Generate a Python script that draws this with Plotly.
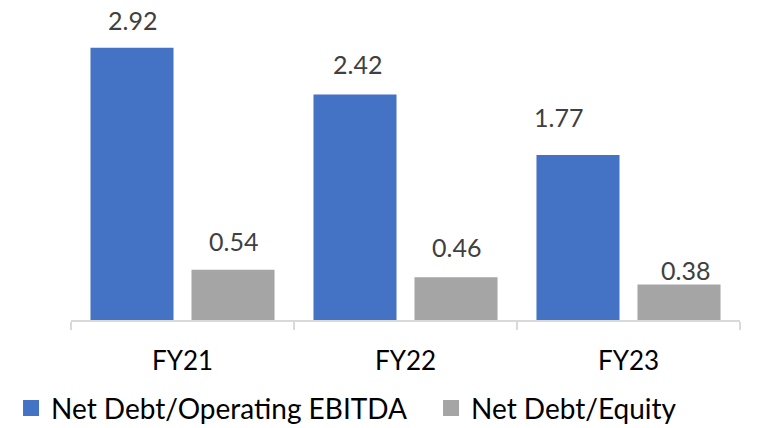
import plotly.graph_objects as go

categories = ["FY21", "FY22", "FY23"]
ebitda = [2.92, 2.42, 1.77]
equity = [0.54, 0.46, 0.38]
series_names = ["Net Debt/Operating EBITDA", "Net Debt/Equity"]
colors = ["#4472C4", "#A5A5A5"]
# pixel offsets of each data label from its bar top (as placed in the original)
ebitda_label_dy = [28, 30, 38]
ebitda_label_dx = [0, 2, -20]
equity_label_dy = [29, 30, 15]
equity_label_dx = [0, 0, 6]

FONT = "Lato"

fig = go.Figure()
legend_ids = ["legend", "legend2"]
for name, vals, col, lg in zip(series_names, [ebitda, equity], colors, legend_ids):
    fig.add_trace(go.Bar(x=categories, y=vals, name=name, marker_color=col,
                         marker_line_width=0, showlegend=False))
    # legend entry with a larger square swatch
    fig.add_trace(go.Scatter(x=[None], y=[None], mode="markers", name=name,
                             marker=dict(symbol="square", size=16, color=col),
                             legend=lg, showlegend=True))

slot_shift = 50.5
for vals, dys, dxs, sx in [(ebitda, ebitda_label_dy, ebitda_label_dx, -slot_shift),
                           (equity, equity_label_dy, equity_label_dx, slot_shift)]:
    for c, v, dy, dx in zip(categories, vals, dys, dxs):
        fig.add_annotation(x=c, y=v, xref="x", yref="y", text=f"{v:.2f}",
                           showarrow=False, xshift=sx + dx, yshift=dy,
                           font=dict(family=FONT, size=25, color="#404040"))

legend_common = dict(orientation="h", xref="container", yref="container",
                     xanchor="left", y=0.046, yanchor="middle",
                     font=dict(family=FONT, size=28, color="#000000"),
                     itemwidth=30, itemsizing="trace", bgcolor="rgba(0,0,0,0)")

fig.update_layout(
    width=761, height=428,
    margin=dict(l=71, r=21, t=10, b=108, autoexpand=False),
    paper_bgcolor="white", plot_bgcolor="white",
    barmode="group", bargap=0.094, bargroupgap=0.178,
    font=dict(family=FONT, size=24, color="#000000"),
    showlegend=True,
    legend=dict(x=0.0145, **legend_common),
    legend2=dict(x=0.5664, **legend_common),
    xaxis=dict(showline=True, linecolor="#D9D9D9", linewidth=1.5,
               ticks="outside", tickson="boundaries", ticklen=8,
               tickcolor="#D9D9D9", tickwidth=1.5, ticklabelstandoff=17,
               automargin=False,
               tickfont=dict(family=FONT, size=26, color="#000000")),
    yaxis=dict(range=[0, 3.326], visible=False, showgrid=False),
)

fig.write_html("out.html", config={"displayModeBar": False},
               post_script="document.body.style.margin='0';document.body.style.padding='0';")
